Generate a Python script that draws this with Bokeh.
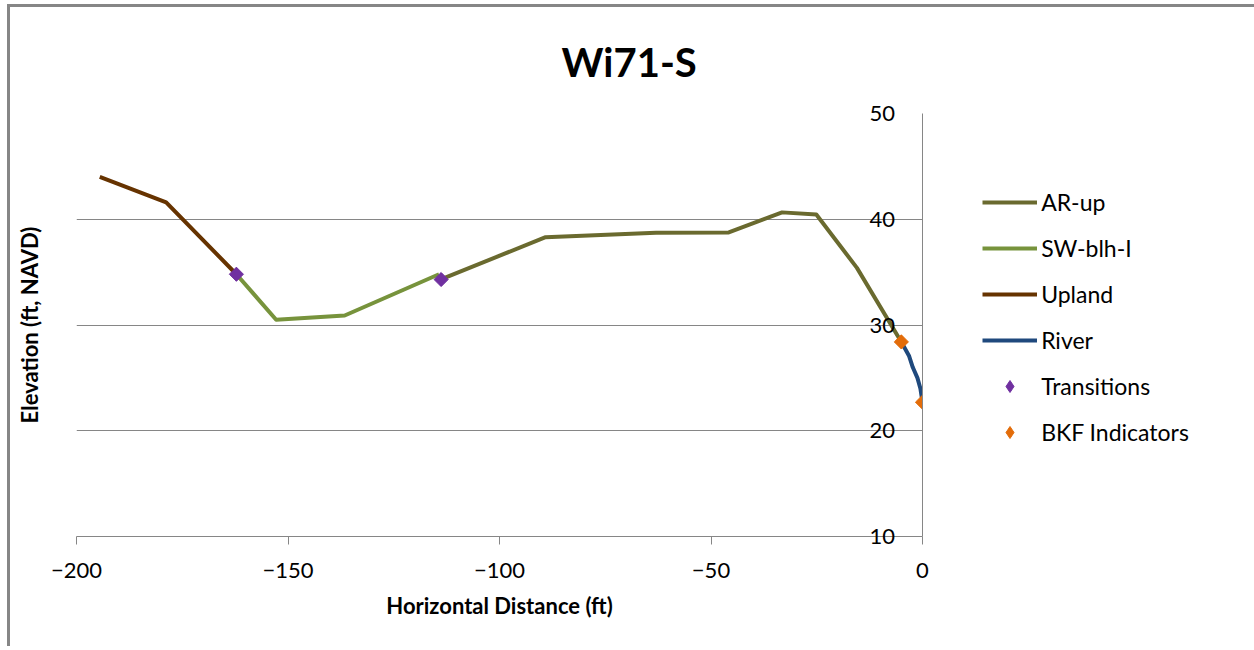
from bokeh.plotting import figure
from bokeh.models import (Range1d, LinearAxis, FixedTicker, Legend, LegendItem)
from bokeh.embed import file_html
from bokeh.resources import INLINE

# ---- data ----
upland_x = [-194.5, -178.8, -162.2]
upland_y = [44.0, 41.6, 34.8]

sw_x = [-162.2, -152.8, -136.6, -114.3]
sw_y = [34.8, 30.5, 30.9, 34.8]

ar_x = [-114.0, -89.1, -63.0, -45.8, -33.2, -25.1, -15.5, -5.0]
ar_y = [34.3, 38.3, 38.72, 38.75, 40.65, 40.45, 35.4, 28.4]

river_x = [-5.0, -3.2, -2.3, -1.2, -0.5, 0.0]
river_y = [28.4, 27.1, 26.0, 25.0, 24.0, 22.7]

trans_x = [-162.2, -113.8]
trans_y = [34.8, 34.3]

bkf_x = [-5.0, 0.0]
bkf_y = [28.4, 22.7]

x_ticks = [-200, -150, -100, -50, 0]
y_ticks = [10, 20, 30, 40, 50]

FONT = "Lato"
GRAY = "#868686"
C_TR = "#7030a0"
C_BK = "#e36c09"

p = figure(frame_width=846, frame_height=423,
           min_border_left=66, min_border_right=332,
           min_border_top=106, min_border_bottom=110,
           x_range=Range1d(-200, 0), y_range=Range1d(10, 50),
           y_axis_location="right",
           output_backend="svg", toolbar_location=None)
p.styles = {"border-left": "3px solid #868686", "border-top": "3px solid #868686",
            "margin-left": "7px", "margin-top": "4px"}
p.outline_line_color = None
p.background_fill_color = "white"
p.border_fill_color = "white"

# title
p.title.text = "Wi71-S"
p.title.align = "left"
p.title.offset = 485
p.title.text_font = FONT
p.title.text_font_size = "40px"
p.title.text_font_style = "bold"
p.title.text_color = "black"
p.title.standoff = 55

# x axis
xa = p.xaxis[0]
xa.ticker = FixedTicker(ticks=x_ticks)
xa.axis_line_color = GRAY
xa.major_tick_line_color = GRAY
xa.major_tick_out = 8
xa.major_tick_in = 0
xa.minor_tick_line_color = None
xa.major_label_text_font = FONT
xa.major_label_text_font_size = "22px"
xa.major_label_text_color = "black"
xa.major_label_standoff = 18
xa.axis_label = "Horizontal Distance (ft)"
xa.axis_label_text_font = FONT
xa.axis_label_text_font_size = "22px"
xa.axis_label_text_font_style = "bold"
xa.axis_label_text_color = "black"
xa.axis_label_standoff = 11

# y axis (drawn at x = 0, labels to the left of it)
ya = p.yaxis[0]
ya.ticker = FixedTicker(ticks=y_ticks)
ya.axis_line_color = GRAY
ya.major_tick_line_color = None
ya.major_tick_out = 0
ya.major_tick_in = 0
ya.minor_tick_line_color = None
ya.major_label_text_font = FONT
ya.major_label_text_font_size = "22px"
ya.major_label_text_color = "black"
ya.major_label_standoff = -53

# left axis only for the title
la = LinearAxis(ticker=FixedTicker(ticks=[]), axis_label="Elevation (ft, NAVD)",
                axis_line_color=None, major_tick_out=0, major_tick_in=0,
                minor_tick_line_color=None, major_label_standoff=0,
                axis_label_text_font=FONT, axis_label_text_font_size="22px",
                axis_label_text_font_style="bold", axis_label_text_color="black",
                axis_label_standoff=34)
p.add_layout(la, "left")

p.xgrid.grid_line_color = None
p.ygrid.ticker = FixedTicker(ticks=y_ticks)
p.ygrid.grid_line_color = GRAY
p.ygrid.grid_line_width = 1

LW = 4
r_ar = p.line(ar_x, ar_y, line_color="#6a6a2f", line_width=LW, line_join="round")
r_sw = p.line(sw_x, sw_y, line_color="#77933c", line_width=LW, line_join="round")
r_up = p.line(upland_x, upland_y, line_color="#663300", line_width=LW, line_join="round")
r_rv = p.line(river_x, river_y, line_color="#1f497d", line_width=LW, line_join="round")
# diamond markers used by the legend (covered by the rotated squares in the plot)
r_tr = p.scatter(trans_x, trans_y, marker="diamond", size=13, fill_color=C_TR, line_color=C_TR)
r_bk = p.scatter(bkf_x, bkf_y, marker="diamond", size=13, fill_color=C_BK, line_color=C_BK)
p.scatter(trans_x, trans_y, marker="square", angle=0.785398, size=10,
          fill_color=C_TR, line_color=C_TR)
p.scatter(bkf_x, bkf_y, marker="square", angle=0.785398, size=10,
          fill_color=C_BK, line_color=C_BK)

legend = Legend(items=[
    LegendItem(label="AR-up", renderers=[r_ar]),
    LegendItem(label="SW-blh-I", renderers=[r_sw]),
    LegendItem(label="Upland", renderers=[r_up]),
    LegendItem(label="River", renderers=[r_rv]),
    LegendItem(label="Transitions", renderers=[r_tr]),
    LegendItem(label="BKF Indicators", renderers=[r_bk]),
], location=(-164, 89), orientation="vertical",
   glyph_width=55, glyph_height=30, label_height=20, spacing=16,
   label_standoff=4, padding=0, margin=0,
   label_text_font=FONT, label_text_font_size="23px", label_text_color="black",
   border_line_color=None, background_fill_alpha=0)
p.add_layout(legend, "right")

open("out.html", "w").write(file_html(p, INLINE))
